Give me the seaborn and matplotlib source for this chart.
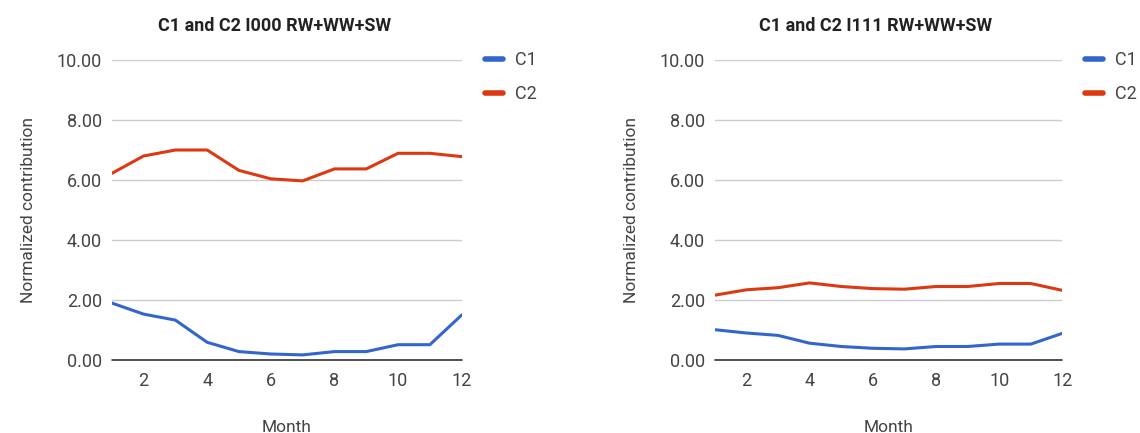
import numpy as np
import pandas as pd
import matplotlib
matplotlib.use("Agg")
import matplotlib.pyplot as plt
from matplotlib.lines import Line2D
import seaborn as sns

months = list(range(1, 13))

# left chart: I000
c1_i000 = [1.90, 1.53, 1.33, 0.59, 0.28, 0.20, 0.17, 0.28, 0.28, 0.51, 0.51, 1.50]
c2_i000 = [6.22, 6.80, 7.00, 7.00, 6.32, 6.04, 5.97, 6.37, 6.37, 6.89, 6.89, 6.78]

# right chart: I111
c1_i111 = [1.01, 0.90, 0.82, 0.56, 0.45, 0.39, 0.37, 0.45, 0.45, 0.53, 0.53, 0.89]
c2_i111 = [2.16, 2.34, 2.41, 2.57, 2.45, 2.38, 2.36, 2.45, 2.45, 2.55, 2.55, 2.32]

titles = ["C1 and C2 I000 RW+WW+SW", "C1 and C2 I111 RW+WW+SW"]
series_names = ["C1", "C2"]
colors = {"C1": "#3366CC", "C2": "#DC3912"}

sns.set_style("white")
plt.rcParams["font.family"] = ["Roboto", "DejaVu Sans"]

fig = plt.figure(figsize=(11.4, 4.33), dpi=100)
axes = [fig.add_axes([0.098, 0.1686, 0.307, 0.6928]),
        fig.add_axes([0.627, 0.1686, 0.305, 0.6928])]
title_x = [0.241, 0.768]

data_sets = [(c1_i000, c2_i000), (c1_i111, c2_i111)]

for k, ax in enumerate(axes):
    c1, c2 = data_sets[k]
    df = pd.DataFrame({
        "Month": months * 2,
        "value": c1 + c2,
        "series": ["C1"] * 12 + ["C2"] * 12,
    })
    sns.lineplot(data=df, x="Month", y="value", hue="series", palette=colors,
                 linewidth=2.2, ax=ax, legend=False)

    ax.set_xlim(1, 12)
    ax.set_ylim(0, 10)
    ax.set_xticks([2, 4, 6, 8, 10, 12])
    ax.set_yticks([0, 2, 4, 6, 8, 10])
    ax.set_yticklabels(["%.2f" % v for v in [0, 2, 4, 6, 8, 10]])
    ax.grid(axis="y", color="#cccccc", linewidth=1)
    ax.axhline(0, color="#333333", linewidth=1.2, clip_on=False)
    for s in ax.spines.values():
        s.set_visible(False)
    ax.tick_params(axis="both", length=0, labelsize=13, colors="#444444")
    ax.tick_params(axis="x", pad=9)
    ax.tick_params(axis="y", pad=7)
    ax.set_xlabel("Month", fontsize=12.5, color="#444444", labelpad=21)
    ax.set_ylabel("Normalized contribution", fontsize=12.5, color="#444444", labelpad=15)

    fig.text(title_x[k], 0.941, titles[k], ha="center", va="center",
             fontsize=13, fontweight="bold", color="#222222")

    handles = [Line2D([0], [0], color=colors[n], linewidth=4) for n in series_names]
    ax.legend(handles, series_names, loc="upper left", bbox_to_anchor=(1.066, 1.03),
              borderpad=0, borderaxespad=0, frameon=False, handlelength=1.0,
              handletextpad=0.66, labelspacing=0.9, fontsize=13, labelcolor="#444444")

plt.savefig("out.png", dpi=100)
